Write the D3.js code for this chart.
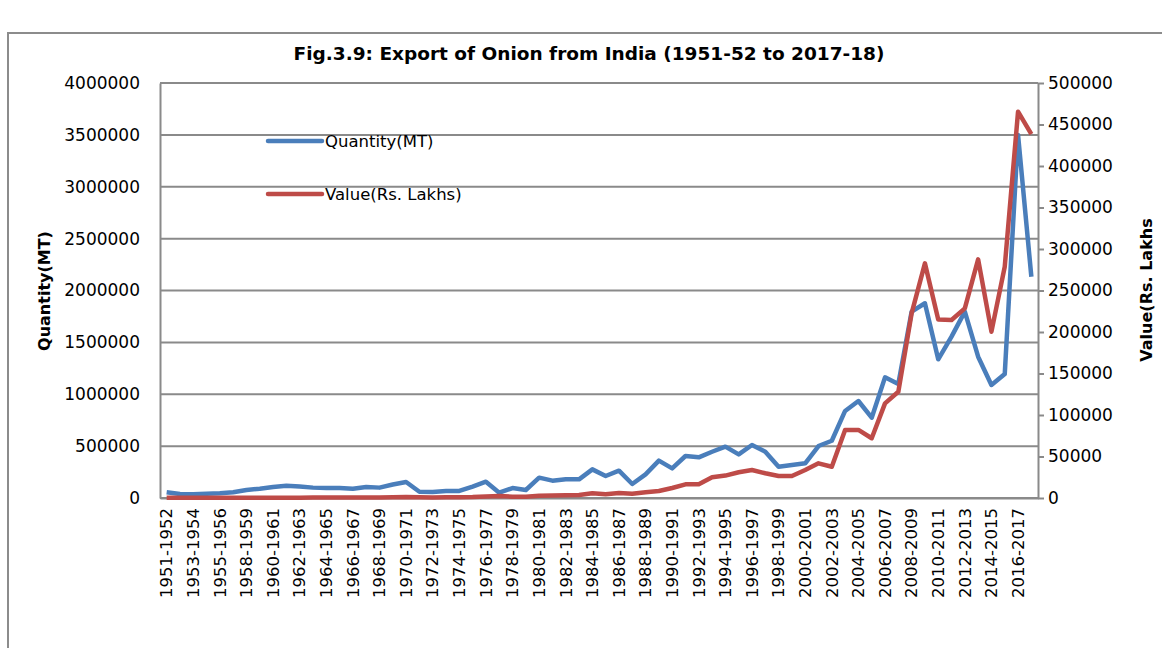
<!DOCTYPE html>
<html>
<head>
<meta charset="utf-8">
<script src="https://cdnjs.cloudflare.com/ajax/libs/d3/7.8.5/d3.min.js"></script>
<style>
  body { margin: 0; background: #fff; }
  svg { display: block; font-family: "DejaVu Sans", sans-serif; }
</style>
</head>
<body>
<svg width="1162" height="648"></svg>
<script>
// years (financial years) shown on the x axis
var years = ["1951-1952","1952-1953","1953-1954","1954-1955","1955-1956","1956-1957",
  "1958-1959","1959-1960","1960-1961","1961-1962","1962-1963","1963-1964","1964-1965",
  "1965-1966","1966-1967","1967-1968","1968-1969","1969-1970","1970-1971","1971-1972",
  "1972-1973","1973-1974","1974-1975","1975-1976","1976-1977","1977-1978","1978-1979",
  "1979-1980","1980-1981","1981-1982","1982-1983","1983-1984","1984-1985","1985-1986",
  "1986-1987","1987-1988","1988-1989","1989-1990","1990-1991","1991-1992","1992-1993",
  "1993-1994","1994-1995","1995-1996","1996-1997","1997-1998","1998-1999","1999-2000",
  "2000-2001","2001-2002","2002-2003","2003-2004","2004-2005","2005-2006","2006-2007",
  "2007-2008","2008-2009","2009-2010","2010-2011","2011-2012","2012-2013","2013-2014",
  "2014-2015","2015-2016","2016-2017","2017-2018"];

// Quantity (MT)
var quantity = [55000,38000,35000,40000,45000,55000,77000,90000,106000,118000,110000,
  100000,97000,97000,90000,106000,100000,130000,154000,60000,58000,67000,68000,110000,
  157000,51000,96000,77000,196000,167000,180000,180000,276000,212000,263000,135000,
  228000,360000,286000,405000,392000,446000,495000,420000,511000,446000,302000,318000,
  334000,501000,552000,839000,935000,774000,1163000,1099000,1796000,1877000,1337000,
  1555000,1796000,1362000,1089000,1195000,3499000,2133000];

// Value (Rs. Lakhs)
var value = [200,200,200,200,250,300,350,400,400,450,450,500,500,550,600,700,750,900,
  1100,800,700,800,900,1100,1800,2500,1500,1400,2600,3000,3200,3500,5600,4500,6000,
  5000,7000,8400,12000,16500,16500,25000,27000,31000,33700,29800,26500,26500,33700,
  41800,37700,82000,82000,72000,114000,128000,222500,282700,215000,214500,228500,
  287500,200400,278700,465400,438500];

var qTicks = d3.range(0, 4000001, 500000);
var vTicks = d3.range(0, 500001, 50000);

var title = "Fig.3.9: Export of Onion from India (1951-52 to 2017-18)";

drawChart();

function drawChart(){
  var svg = d3.select("svg");
  var pLeft = 160, pRight = 1038, pTop = 83, pBottom = 498;
  var grey = "#8a8a8a";
  var font = "DejaVu Sans, sans-serif";

  // outer frame (left and top edges visible)
  svg.append("path")
     .attr("d", "M8,648V33H1162")
     .attr("fill", "none")
     .attr("stroke", "#8c8c8c")
     .attr("stroke-width", 2);

  var x = d3.scaleBand().domain(years).range([pLeft, pRight]);
  var yQ = d3.scaleLinear().domain([0, 4000000]).range([pBottom, pTop]);
  var yV = d3.scaleLinear().domain([0, 500000]).range([pBottom, pTop]);

  // gridlines
  svg.append("g")
     .selectAll("line")
     .data(qTicks)
     .enter()
     .append("line")
     .attr("x1", pLeft).attr("x2", pRight)
     .attr("y1", d => yQ(d)).attr("y2", d => yQ(d))
     .attr("stroke", grey)
     .attr("stroke-width", 2);

  // left axis
  var gl = svg.append("g")
     .attr("transform", "translate(" + pLeft + ",0)")
     .call(d3.axisLeft(yQ).tickValues(qTicks).tickSize(0).tickPadding(20).tickFormat(d3.format("d")))
     .attr("font-family", font);
  gl.select(".domain").attr("stroke", grey).attr("stroke-width", 2);
  gl.selectAll("text").attr("font-size", 17).attr("fill", "#000");

  // right axis
  var gr = svg.append("g")
     .attr("transform", "translate(" + pRight + ",0)")
     .call(d3.axisRight(yV).tickValues(vTicks).tickSizeInner(6).tickSizeOuter(0).tickPadding(4).tickFormat(d3.format("d")))
     .attr("font-family", font);
  gr.select(".domain").attr("stroke", grey).attr("stroke-width", 2);
  gr.selectAll("line").attr("stroke", grey).attr("stroke-width", 2);
  gr.selectAll("text").attr("font-size", 17).attr("fill", "#000");

  // bottom axis, every second year labelled
  var gb = svg.append("g")
     .attr("transform", "translate(0," + pBottom + ")")
     .call(d3.axisBottom(x).tickValues(years.filter((d, i) => i % 2 === 0)).tickSize(0).tickPadding(0))
     .attr("font-family", font);
  gb.select(".domain").attr("stroke", grey).attr("stroke-width", 2);
  gb.selectAll("text")
    .attr("font-size", 16.5)
    .attr("fill", "#000")
    .attr("text-anchor", "end")
    .attr("dy", "0.35em")
    .attr("transform", "translate(0,10) rotate(-90)")
    .attr("x", 0).attr("y", 0);

  var cx = d => x(d) + x.bandwidth() / 2;

  var lineQ = d3.line().x((d, i) => cx(years[i])).y(d => yQ(d));
  var lineV = d3.line().x((d, i) => cx(years[i])).y(d => yV(d));

  svg.append("path")
     .datum(quantity)
     .attr("d", lineQ)
     .attr("fill", "none")
     .attr("stroke", "#4a7ebb")
     .attr("stroke-width", 4.5)
     .attr("stroke-linejoin", "round");

  svg.append("path")
     .datum(value)
     .attr("d", lineV)
     .attr("fill", "none")
     .attr("stroke", "#be4b48")
     .attr("stroke-width", 4.5)
     .attr("stroke-linejoin", "round");

  // title
  svg.append("text")
     .attr("x", 589).attr("y", 60)
     .attr("text-anchor", "middle")
     .attr("font-size", 18.5)
     .attr("font-weight", "bold")
     .text(title);

  // axis titles
  svg.append("text")
     .attr("transform", "translate(50,291) rotate(-90)")
     .attr("text-anchor", "middle")
     .attr("font-size", 16)
     .attr("font-weight", "bold")
     .text("Quantity(MT)");

  svg.append("text")
     .attr("transform", "translate(1152,290) rotate(-90)")
     .attr("text-anchor", "middle")
     .attr("font-size", 16)
     .attr("font-weight", "bold")
     .text("Value(Rs. Lakhs");

  // legend
  var legend = [
    {name: "Quantity(MT)", color: "#4a7ebb", y: 141},
    {name: "Value(Rs. Lakhs)", color: "#be4b48", y: 194}
  ];
  var lg = svg.selectAll(".legend")
     .data(legend)
     .enter()
     .append("g")
     .attr("class", "legend");
  lg.append("line")
    .attr("x1", 268).attr("x2", 322)
    .attr("y1", d => d.y).attr("y2", d => d.y)
    .attr("stroke", d => d.color)
    .attr("stroke-width", 4.5)
    .attr("stroke-linecap", "round");
  lg.append("text")
    .attr("x", 325).attr("y", d => d.y)
    .attr("dy", "0.35em")
    .attr("font-size", 16.5)
    .text(d => d.name);
}
</script>
</body>
</html>
